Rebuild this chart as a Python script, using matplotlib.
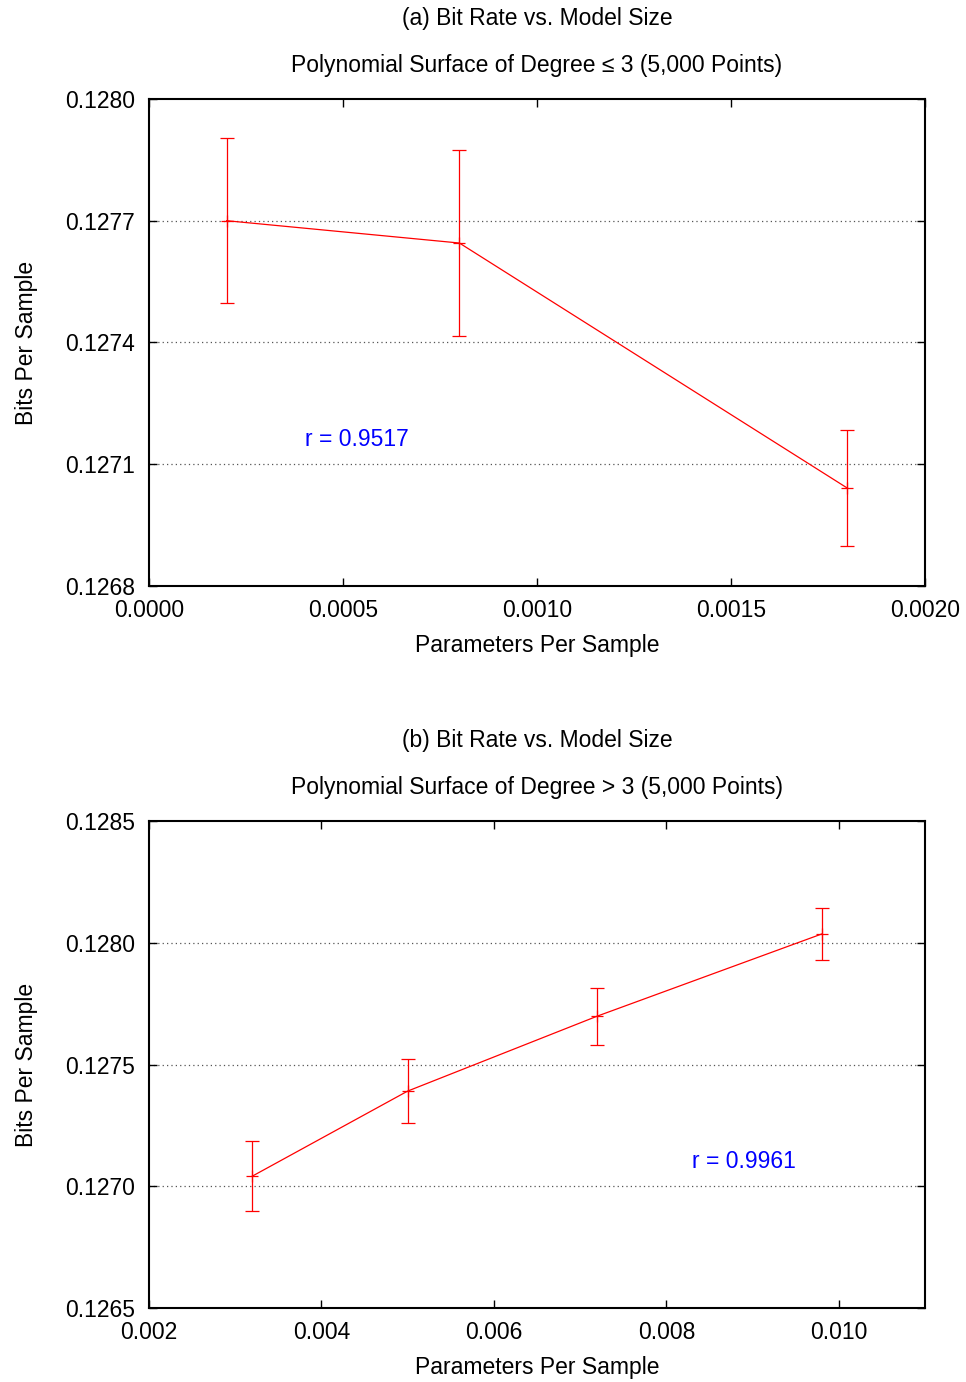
import matplotlib as mpl
import matplotlib.pyplot as plt

# panel (a): degree <= 3
params_a = [0.0002, 0.0008, 0.0018]
bits_a = [0.12770, 0.127645, 0.127041]
err_a = [0.000203, 0.000228, 0.000143]
ticks_xa = [0.0000, 0.0005, 0.0010, 0.0015, 0.0020]
ticks_ya = [0.1268, 0.1271, 0.1274, 0.1277, 0.1280]

# panel (b): degree > 3
params_b = [0.0032, 0.0050, 0.0072, 0.0098]
bits_b = [0.127042, 0.127391, 0.127699, 0.128036]
err_b = [0.000144, 0.000130, 0.000117, 0.000105]
ticks_xb = [0.002, 0.004, 0.006, 0.008, 0.010]
ticks_yb = [0.1265, 0.1270, 0.1275, 0.1280, 0.1285]

FS = 16.5
mpl.rcParams.update({"font.family": ["Liberation Sans", "DejaVu Sans"], "font.size": FS})

fig = plt.figure(figsize=(9.66, 13.82), dpi=100)
ax_a = fig.add_axes([0.1542, 0.5760, 0.8034, 0.3524])
ax_b = fig.add_axes([0.1542, 0.0535, 0.8034, 0.3524])


def draw_panel(ax, x, y, e, xticks, yticks, xfmt, xlim, title, sub, rtext, rpos):
    for yt in yticks[1:-1]:
        ax.axhline(yt, color="#555555", linestyle=(0, (1, 2.5)), linewidth=0.9, zorder=1)
    ax.errorbar(x, y, yerr=e, color="red", linewidth=0.9, elinewidth=0.9,
                capsize=5, capthick=0.9, marker="+", markersize=9, markeredgewidth=0.9, zorder=3)
    ax.set_xlim(*xlim)
    ax.set_ylim(yticks[0], yticks[-1])
    ax.set_xticks(xticks)
    ax.set_xticklabels([xfmt.format(t) for t in xticks])
    ax.set_yticks(yticks)
    ax.set_yticklabels([f"{t:.4f}" for t in yticks])
    ax.tick_params(axis="x", direction="in", top=True, length=6, width=1, labelsize=FS, pad=9.5)
    ax.tick_params(axis="y", direction="in", right=True, length=6, width=1, labelsize=FS, pad=10)
    for s in ax.spines.values():
        s.set_linewidth(1.5)
    ax.set_xlabel("Parameters Per Sample", fontsize=FS)
    ax.set_ylabel("Bits Per Sample", fontsize=FS)
    ax.xaxis.set_label_coords(0.5, -0.098)
    ax.yaxis.set_label_coords(-0.143, 0.5)
    ax.text(0.5, 1.166, title, transform=ax.transAxes, ha="center", va="center", fontsize=FS)
    ax.text(0.5, 1.069, sub, transform=ax.transAxes, ha="center", va="center", fontsize=FS)
    ax.text(rpos[0], rpos[1], rtext, color="blue", fontsize=FS, va="center")


draw_panel(ax_a, params_a, bits_a, err_a, ticks_xa, ticks_ya, "{:.4f}", (0.0, 0.002),
           "(a) Bit Rate vs. Model Size", "Polynomial Surface of Degree \u2264 3 (5,000 Points)",
           "r = 0.9517", (0.000402, 0.12716))
draw_panel(ax_b, params_b, bits_b, err_b, ticks_xb, ticks_yb, "{:.3f}", (0.002, 0.011),
           "(b) Bit Rate vs. Model Size", "Polynomial Surface of Degree > 3 (5,000 Points)",
           "r = 0.9961", (0.00830, 0.1271))

fig.savefig("out.png", dpi=100)
